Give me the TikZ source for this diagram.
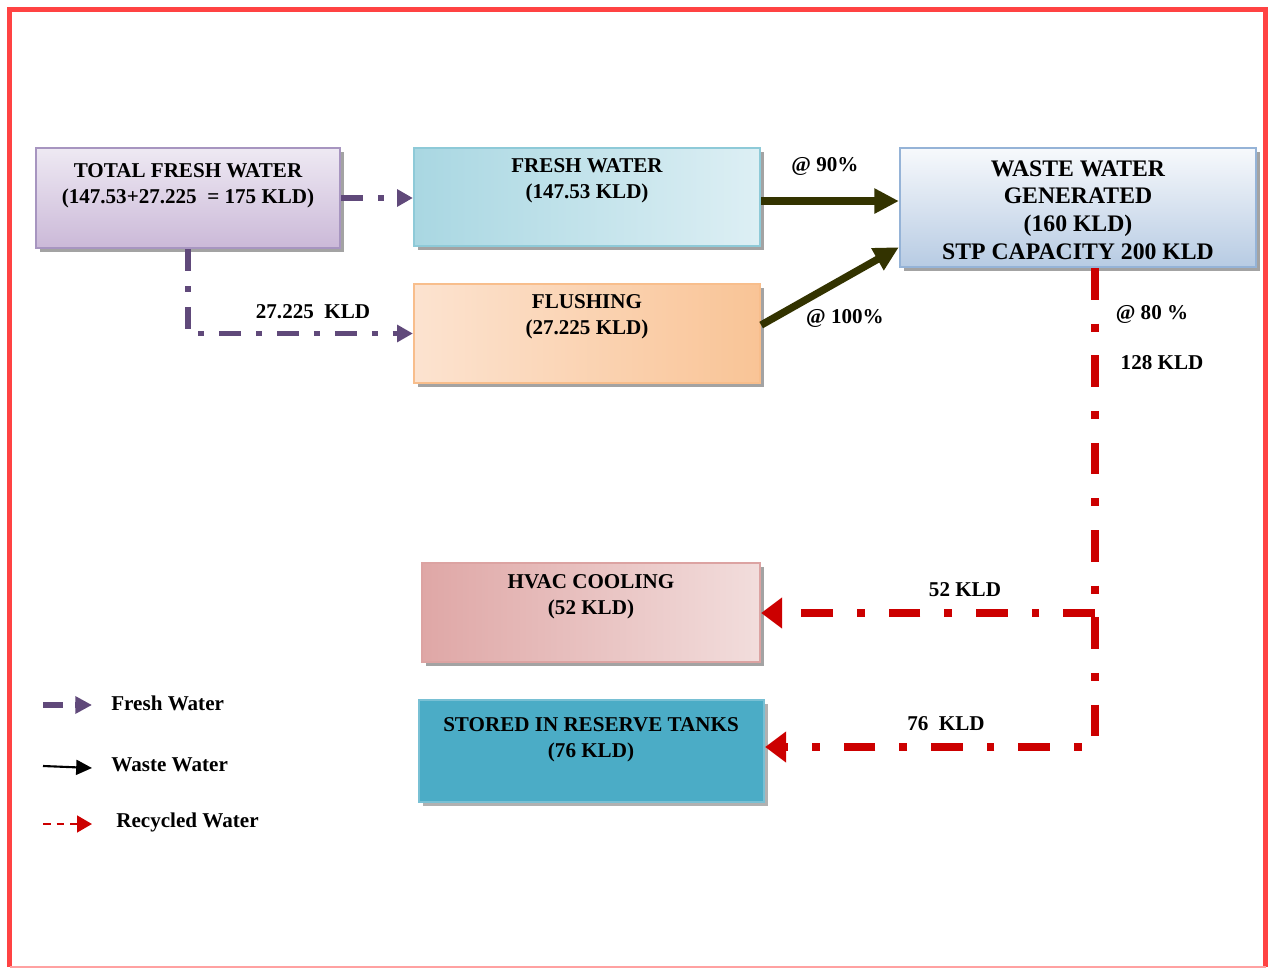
\documentclass[tikz,border=0pt]{standalone}
\usepackage{fontspec}
\setmainfont{Liberation Serif}
\usetikzlibrary{arrows.meta,shadows,fit,calc}
\definecolor{frc}{HTML}{60497A}
\definecolor{rec}{HTML}{CC0000}
\definecolor{wst}{HTML}{333300}
\definecolor{brd}{HTML}{FF4343}
\definecolor{tfwA}{HTML}{EEE9F3}
\definecolor{tfwB}{HTML}{CBB9D8}
\definecolor{tfwD}{HTML}{A795C0}
\definecolor{fwA}{HTML}{A9D7E2}
\definecolor{fwB}{HTML}{DDEFF4}
\definecolor{fwD}{HTML}{8ECAD8}
\definecolor{flA}{HTML}{FCE3D0}
\definecolor{flB}{HTML}{F9C496}
\definecolor{flD}{HTML}{F8BE8C}
\definecolor{wwA}{HTML}{F7F9FC}
\definecolor{wwB}{HTML}{B7CBE3}
\definecolor{wwD}{HTML}{95B3D7}
\definecolor{hvA}{HTML}{DFA7A6}
\definecolor{hvB}{HTML}{F2DDDC}
\definecolor{hvD}{HTML}{DCA3A2}
\definecolor{stF}{HTML}{4BACC6}
\definecolor{stD}{HTML}{78C0D4}
\begin{document}
\begin{tikzpicture}[x=0.02cm,y=-0.02cm,
  box/.style={inner sep=0pt, line width=1.3pt,
    drop shadow={shadow xshift=2.3pt, shadow yshift=-2.3pt, fill=black!45, opacity=0.8}},
  txt/.style={font=\bfseries\fontsize{12}{14.7}\selectfont, align=center, anchor=north, inner sep=0pt},
  lbl/.style={font=\bfseries\fontsize{12}{14}\selectfont, inner sep=0pt},
  fresh/.style={draw=frc, line width=3.4pt,
    dash pattern=on 12.5pt off 8.5pt on 3.4pt off 8.5pt,
    -{Triangle[length=9pt,width=9.5pt]}},
  recyc/.style={draw=rec, line width=5pt,
    dash pattern=on 18pt off 13.6pt on 4.5pt off 13.6pt,
    -{Triangle[length=12pt,width=17pt]}},
  waste/.style={draw=wst, line width=4.2pt, -{Triangle[length=14pt,width=13.6pt]}}
]
\useasboundingbox (0,0) rectangle (1272,969);
% border
\draw[brd, line width=2.9pt] (9.5,967) -- (9.5,9.5) -- (1265.5,9.5) -- (1265.5,967);
\draw[brd!50, line width=0.9pt] (9.5,967) -- (1265.5,967);

% boxes
\node[box, draw=tfwD, top color=tfwA, bottom color=tfwB,
  fit={(36,148)(340,248)}] (tfw) {};
\node[box, draw=fwD, left color=fwA, right color=fwB,
  fit={(414,148)(760,246)}] (fw) {};
\node[box, draw=flD, left color=flA, right color=flB,
  fit={(414,284)(760,383)}] (fl) {};
\node[box, draw=wwD, top color=wwA, bottom color=wwB,
  fit={(900,148)(1256,267)}] (ww) {};
\node[box, draw=hvD, left color=hvA, right color=hvB,
  fit={(422,563)(760,662)}] (hv) {};
\node[box, draw=stD, fill=stF,
  drop shadow={shadow xshift=2.3pt, shadow yshift=-2.3pt, fill=black!25},
  fit={(419,700)(764,802)}] (st) {};

% texts
\node[txt] (tfwt) at (188,163) {TOTAL FRESH WATER\\(147.53+27.225 \ = 175 KLD)};
\node[txt] (fwt) at (587,158) {FRESH WATER\\(147.53 KLD)};
\node[txt] (flt) at (587,294) {FLUSHING\\(27.225 KLD)};
\node[txt, font=\bfseries\fontsize{13.5}{15.9}\selectfont] (wwt) at (1078,160)
  {WASTE WATER\\GENERATED\\(160 KLD)\\STP CAPACITY 200 KLD};
\node[txt] (hvt) at (591,574) {HVAC COOLING\\(52 KLD)};
\node[txt] (stt) at (591,717) {STORED IN RESERVE TANKS\\(76 KLD)};

% fresh water connectors
\draw[fresh] (tfw.east) -- (fw.west |- tfw.east);
\draw[fresh] (tfw.south) |- (fl.west);
\node[lbl] (l1) at (313,312) {27.225 \ KLD};

% waste water connectors
\coordinate (a1) at ([yshift=-2.3pt]fw.east);
\draw[waste] (a1) -- (a1 -| ww.west);
\draw[waste] ([yshift=4.8pt]fl.east) -- ([yshift=11.9pt]ww.south west);
\node[lbl] (l2) at (825,166) {@ 90\%};
\node[lbl] (l3) at (845,318) {@ 100\%};

% recycled connectors
\coordinate (j1) at (1095,613);
\coordinate (j2) at (1095,747);
\draw[recyc] (ww.south -| j1) -- (j2) -- (st.east |- j2);
\draw[recyc] (j1) -- (hv.east |- j1);
\node[lbl] (l4) at (1152,314) {@ 80 \%};
\node[lbl] (l5) at (1162,363) {128 KLD};
\node[lbl] (l6) at (965,590) {52 KLD};
\node[lbl] (l7) at (946,724) {76 \ KLD};

% legend
\coordinate (lf1) at (43,705); \coordinate (lf2) at (92,705);
\draw[draw=frc, line width=3.4pt, dash pattern=on 11.3pt off 7pt,
  -{Triangle[length=9.5pt,width=9.5pt]}] (lf1) -- (lf2);
\node[lbl, anchor=west] (lg1) at (111,703) {Fresh Water};
\coordinate (lw1) at (43,766); \coordinate (lw2) at (92,768);
\draw[black, line width=1.2pt, -{Triangle[length=9pt,width=8.5pt]}] (lw1) -- (lw2);
\node[lbl, anchor=west] (lg2) at (111,765) {Waste Water};
\coordinate (lr1) at (43,824); \coordinate (lr2) at (92,824);
\draw[rec, line width=1.3pt, dash pattern=on 4.3pt off 3.4pt,
  -{Triangle[length=8.5pt,width=9.5pt]}] (lr1) -- (lr2);
\node[lbl, anchor=west] (lg3) at (116,822) {Recycled Water};
\end{tikzpicture}
\end{document}
